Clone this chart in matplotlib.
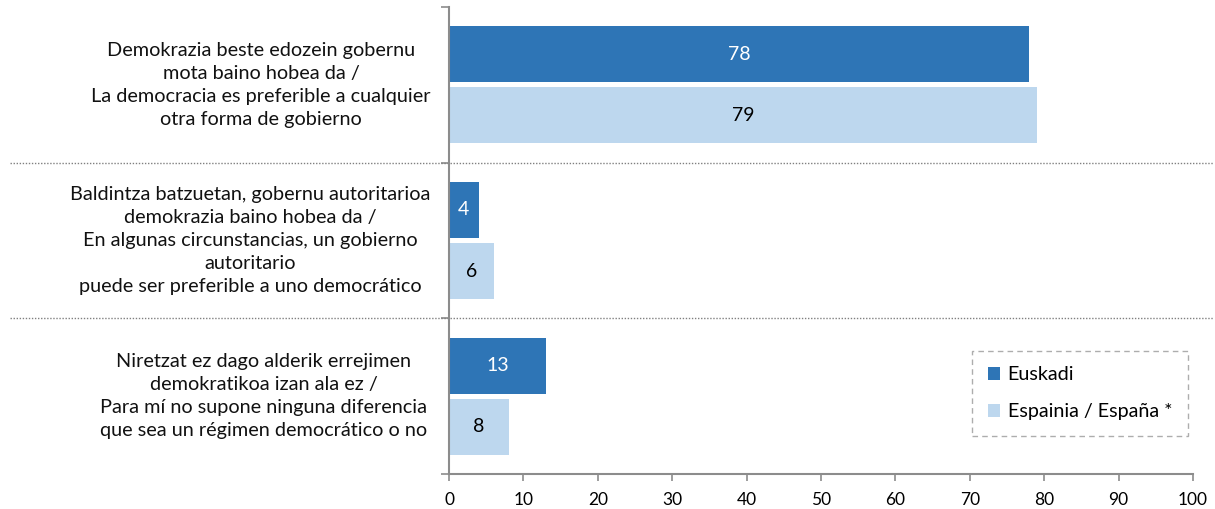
import matplotlib
matplotlib.use("Agg")
import matplotlib.pyplot as plt
from matplotlib.transforms import blended_transform_factory
from matplotlib.lines import Line2D

plt.rcParams['font.family'] = ['Lato', 'DejaVu Sans']

categories = [
    "Demokrazia beste edozein gobernu\nmota baino hobea da /\nLa democracia es preferible a cualquier\notra forma de gobierno",
    "Baldintza batzuetan, gobernu autoritarioa\ndemokrazia baino hobea da /\nEn algunas circunstancias, un gobierno\nautoritario\npuede ser preferible a uno democrático",
    "Niretzat ez dago alderik errejimen\ndemokratikoa izan ala ez /\nPara mí no supone ninguna diferencia\nque sea un régimen democrático o no",
]
series_names = ["Euskadi", "Espainia / España *"]
euskadi = [78, 4, 13]
espana = [79, 6, 8]
xticks = [0, 10, 20, 30, 40, 50, 60, 70, 80, 90, 100]

dark = "#2E75B6"
light = "#BDD7EE"
axis_col = "#8C8C8C"

fig = plt.figure(figsize=(12.15, 5.09), dpi=100)
ax = fig.add_axes([449/1215, 1-474/509, (1193-449)/1215, (474-7)/509])

n = len(categories)
centers = [i + 0.5 for i in range(n)]
h = 0.36
off = 0.196
b1 = ax.barh([c - off for c in centers], euskadi, height=h, color=dark, label=series_names[0])
b2 = ax.barh([c + off for c in centers], espana, height=h, color=light, label=series_names[1])

for c, v in zip(centers, euskadi):
    ax.text(v / 2, c - off, str(v), ha='center', va='center', color='white', fontsize=14)
for c, v in zip(centers, espana):
    ax.text(v / 2, c + off, str(v), ha='center', va='center', color='black', fontsize=14)

ax.set_xlim(0, 100)
ax.set_ylim(n, 0)
ax.set_xticks(xticks)
ax.set_xticklabels([str(t) for t in xticks], fontsize=12.5)
ax.set_yticks(range(n + 1))
ax.set_yticklabels([])
ax.tick_params(axis='x', length=5, color=axis_col, width=1.2, pad=8)
ax.tick_params(axis='y', length=6, color=axis_col, width=1.2)
for s in ['top', 'right']:
    ax.spines[s].set_visible(False)
for s in ['left', 'bottom']:
    ax.spines[s].set_color(axis_col)
    ax.spines[s].set_linewidth(1.5)

# category labels
label_x = [261, 250, 264]
trans = blended_transform_factory(fig.transFigure, ax.transData)
for c, lab, lx in zip(centers, categories, label_x):
    t = fig.text(lx / 1215, c, lab, ha='center', va='center',
                 multialignment='center', fontsize=14.3, linespacing=1.42,
                 color='#111111')
    t.set_transform(trans)

# separators
for b in range(1, n):
    ax.add_line(Line2D([(10 - 449) / 744 * 100, (1213 - 449) / 744 * 100], [b, b],
                       color='#808080', linestyle=(0, (1, 1.2)), linewidth=1.0, clip_on=False))

leg = ax.legend(handles=[b1, b2], loc='lower right', bbox_to_anchor=((1188-449)/744, (474-436)/467),
                fontsize=14.2, frameon=True, fancybox=False, handlelength=0.6, handleheight=0.6,
                handletextpad=0.4, labelspacing=1.0, borderpad=0.8, borderaxespad=0)
fr = leg.get_frame()
fr.set_edgecolor('#999999')
fr.set_linestyle((0, (4, 3)))
fr.set_linewidth(1.0)

fig.savefig("out.png", dpi=100)
